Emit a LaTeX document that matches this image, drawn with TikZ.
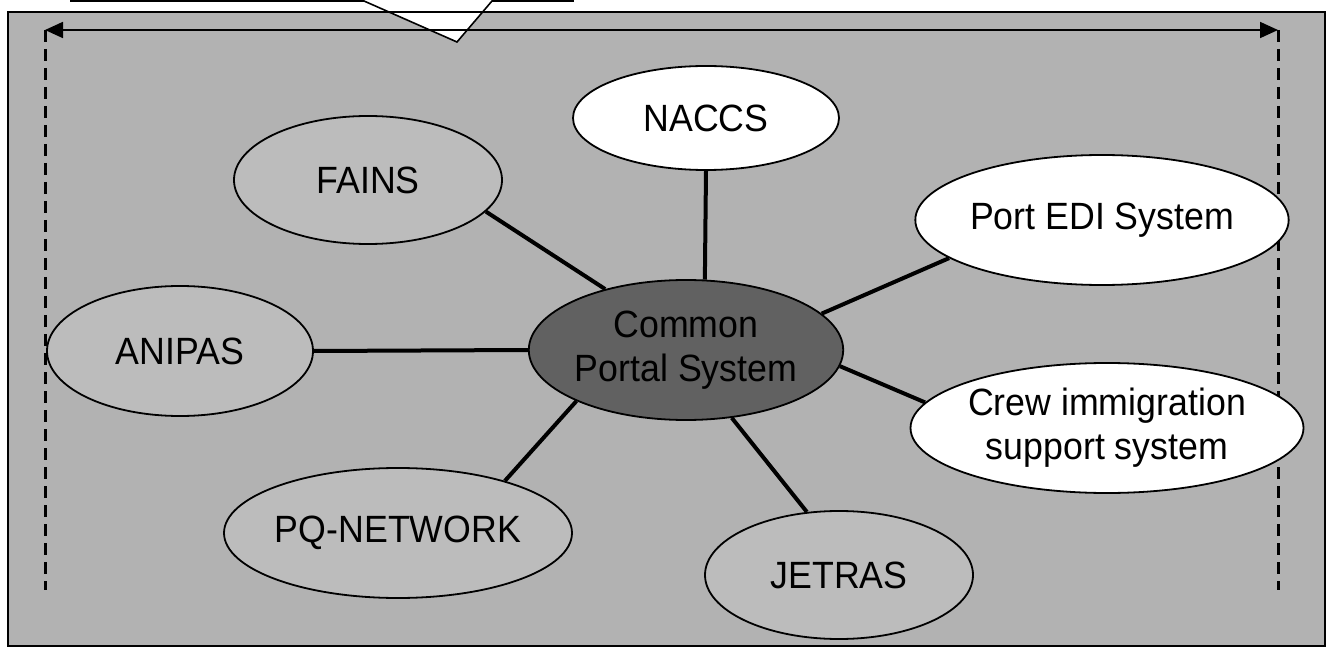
\documentclass[tikz,border=0pt]{standalone}
\usepackage{fontspec}
\setmainfont{Liberation Sans}[FakeStretch=0.94]
\usetikzlibrary{arrows.meta, shapes.geometric, backgrounds}

\definecolor{scangray}{gray}{0.70}
\definecolor{hubgray}{gray}{0.38}

\begin{document}
\begin{tikzpicture}[
  x=1pt, y=-1pt,
  sysbox/.style={ellipse, draw=black, line width=1.8pt, inner sep=0pt,
                 align=center, font=\fontsize{38}{44}\selectfont},
  wbox/.style={sysbox, fill=white},
  gbox/.style={sysbox, fill=scangray!88!white},
  hbox/.style={sysbox, fill=hubgray},
  link/.style={line width=4pt},
  scopeline/.style={line width=1.8pt,
                    {Triangle[length=18pt,width=16pt]}-{Triangle[length=18pt,width=16pt]}},
  bounddash/.style={line width=3pt, dash pattern=on 12pt off 7pt},
]
  \useasboundingbox (0,0) rectangle (1336,652);

  % ═══ Hub ═══════════════════════════════════════════════
  \node[hbox, minimum width=306pt, minimum height=140pt] (cps) at (686,350) {Common\\Portal System};

  % ═══ Systems round the hub ════════════════════════════
  \node[wbox, minimum width=266pt, minimum height=104pt] (naccs)   at (706,118)  {NACCS};
  \node[gbox, minimum width=268pt, minimum height=128pt] (fains)   at (368,180)  {FAINS};
  \node[wbox, minimum width=316pt, minimum height=130pt] (portedi) at (1102,220) {Port EDI System};
  \node[gbox, minimum width=266pt, minimum height=130pt] (anipas)  at (180,351)  {ANIPAS};
  \node[wbox, minimum width=340pt, minimum height=130pt] (crew)    at (1107,428) {Crew immigration\\support system};
  \node[gbox, minimum width=268pt, minimum height=130pt] (pq)      at (398,533)  {PQ-NETWORK};
  \node[gbox, minimum width=268pt, minimum height=128pt] (jetras)  at (839,575)  {JETRAS};

  % Scope markers: span arrow and its two dashed drops
  \coordinate (spanL) at (45,30);
  \coordinate (spanR) at (1278,30);
  \coordinate (dropL) at (45,590);
  \coordinate (dropR) at (1278,590);

  \begin{pgfonlayer}{background}
    % scanned panel
    \fill[scangray] (8,12) rectangle (1325,646);
    % callout pointer from the box above
    \filldraw[fill=white, line width=1.6pt]
      (71,-6) -- (71,1) -- (364,1) -- (457,42) -- (492,1) -- (573,1) -- (573,-6);
    \draw[line width=1.6pt] (8,12) rectangle (1325,646);

    \draw[scopeline] (spanL) -- (spanR);
    \draw[bounddash] (spanL) -- (dropL);
    \draw[bounddash] (spanR) -- (dropR);

    % ═══ Links to the hub ══════════════════════════════
    \draw[link] (fains.345)   -- (cps.143);
    \draw[link] (naccs.south) -- (cps.75);
    \draw[link] (portedi.194) -- (cps.15);
    \draw[link] (anipas.east) -- (cps.west);
    \draw[link] (crew.172)    -- (cps.354);
    \draw[link] (pq.26)       -- (cps.205);
    \draw[link] (jetras.117)  -- (cps.304);
  \end{pgfonlayer}
\end{tikzpicture}
\end{document}
